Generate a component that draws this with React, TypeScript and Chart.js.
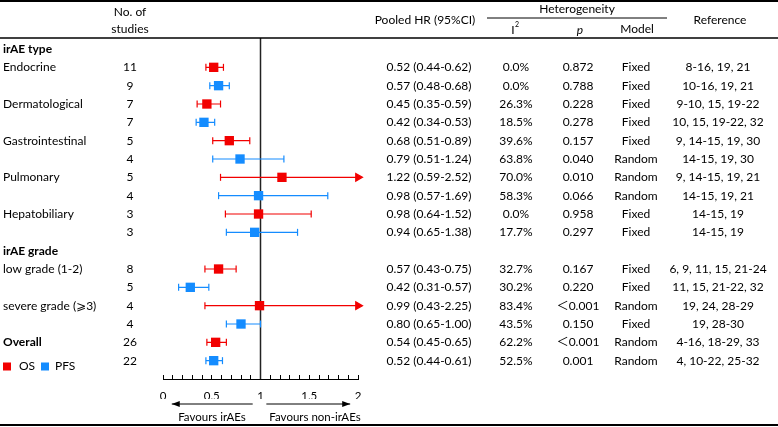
import { useEffect, useRef } from 'react';
import { Chart, registerables } from 'chart.js';

Chart.register(...registerables);

const FONT = 'Lato, "DejaVu Sans", "Noto Sans CJK SC", sans-serif';
const OS_COLOR = '#F20000';
const PFS_COLOR = '#148CFF';

const rowLabels = ['irAE type', 'Endocrine', '', 'Dermatological', '', 'Gastrointestinal', '', 'Pulmonary', '', 'Hepatobiliary', '', 'irAE grade', 'low grade (1-2)', '', 'severe grade (⩾3)', '', 'Overall', ''];
const boldRows = [0, 11, 16];
const rowSeries = ['', 'OS', 'PFS', 'OS', 'PFS', 'OS', 'PFS', 'OS', 'PFS', 'OS', 'PFS', '', 'OS', 'PFS', 'OS', 'PFS', 'OS', 'PFS'];
const studyCounts = ['', '11', '9', '7', '7', '5', '4', '5', '4', '3', '3', '', '8', '5', '4', '4', '26', '22'];
const pooledHR = ['', '0.52 (0.44-0.62)', '0.57 (0.48-0.68)', '0.45 (0.35-0.59)', '0.42 (0.34-0.53)', '0.68 (0.51-0.89)', '0.79 (0.51-1.24)', '1.22 (0.59-2.52)', '0.98 (0.57-1.69)', '0.98 (0.64-1.52)', '0.94 (0.65-1.38)', '', '0.57 (0.43-0.75)', '0.42 (0.31-0.57)', '0.99 (0.43-2.25)', '0.80 (0.65-1.00)', '0.54 (0.45-0.65)', '0.52 (0.44-0.61)'];
const i2Values = ['', '0.0%', '0.0%', '26.3%', '18.5%', '39.6%', '63.8%', '70.0%', '58.3%', '0.0%', '17.7%', '', '32.7%', '30.2%', '83.4%', '43.5%', '62.2%', '52.5%'];
const pValues = ['', '0.872', '0.788', '0.228', '0.278', '0.157', '0.040', '0.010', '0.066', '0.958', '0.297', '', '0.167', '0.220', '＜0.001', '0.150', '＜0.001', '0.001'];
const models = ['', 'Fixed', 'Fixed', 'Fixed', 'Fixed', 'Fixed', 'Random', 'Random', 'Random', 'Fixed', 'Fixed', '', 'Fixed', 'Fixed', 'Random', 'Fixed', 'Random', 'Random'];
const references = ['', '8-16, 19, 21', '10-16, 19, 21', '9-10, 15, 19-22', '10, 15, 19-22, 32', '9, 14-15, 19, 30', '14-15, 19, 30', '9, 14-15, 19, 21', '14-15, 19, 21', '14-15, 19', '14-15, 19', '', '6, 9, 11, 15, 21-24', '11, 15, 21-22, 32', '19, 24, 28-29', '19, 28-30', '4-16, 18-29, 33', '4, 10-22, 25-32'];

// plotted estimates (as drawn in the figure)
const plotHR: (number | null)[] = [null, 0.52, 0.57, 0.45, 0.42, 0.68, 0.79, 1.22, 0.98, 0.98, 0.94, null, 0.57, 0.28, 0.99, 0.80, 0.54, 0.52];
const plotLow: (number | null)[] = [null, 0.44, 0.48, 0.35, 0.34, 0.51, 0.51, 0.59, 0.57, 0.64, 0.65, null, 0.43, 0.16, 0.43, 0.65, 0.45, 0.44];
const plotHigh: (number | null)[] = [null, 0.62, 0.68, 0.59, 0.53, 0.89, 1.24, 2.52, 1.69, 1.52, 1.38, null, 0.75, 0.47, 2.25, 1.00, 0.65, 0.61];

const xTickValues = [0, 0.5, 1, 1.5, 2];
const xTickLabels = ['0', '0.5', '1', '1.5', '2'];
const X_MIN = 0;
const X_MAX = 2;
const NULL_EFFECT = 1;
const Y_MIN = -0.6;
const Y_MAX = 18;

function pointsFor(s: string) {
  const out: any[] = [];
  rowSeries.forEach((ser, k) => {
    if (ser === s && plotHR[k] != null) out.push({ x: plotHR[k], y: k });
  });
  return out;
}

function ciFor(s: string) {
  const out: any[] = [];
  rowSeries.forEach((ser, k) => {
    if (ser !== s || plotLow[k] == null || plotHigh[k] == null) return;
    const hi = plotHigh[k] as number;
    out.push({ x: plotLow[k], y: k, arrow: false });
    out.push({ x: Math.min(hi, X_MAX), y: k, arrow: hi > X_MAX });
    out.push({ x: null, y: null });
  });
  return out;
}

function ciDataset(s: string, color: string) {
  return {
    label: s + ' CI',
    data: ciFor(s),
    showLine: true,
    spanGaps: false,
    clip: false,
    borderColor: color,
    borderWidth: 1.2,
    pointStyle: (c: any) => (c.raw && c.raw.arrow ? 'triangle' : 'line'),
    pointRotation: 90,
    pointRadius: (c: any) => (c.raw && c.raw.arrow ? 4.5 : 3.5),
    pointBackgroundColor: color,
    pointBorderColor: color,
    pointBorderWidth: 1.2,
  };
}

const tablePlugin = {
  id: 'forestTable',
  afterDraw(chart: any) {
    const ctx = chart.ctx as CanvasRenderingContext2D;
    const ys = chart.scales.y;
    const xs = chart.scales.x;
    const W = chart.width;
    const H = chart.height;
    ctx.save();
    ctx.fillStyle = '#000';
    ctx.strokeStyle = '#000';

    // frame lines
    ctx.lineWidth = 2;
    ctx.beginPath();
    ctx.moveTo(0, 1); ctx.lineTo(W, 1);
    ctx.moveTo(0, H - 2); ctx.lineTo(W, H - 2);
    ctx.stroke();
    ctx.lineWidth = 1.3;
    ctx.beginPath();
    ctx.moveTo(0, 38); ctx.lineTo(W, 38);
    ctx.stroke();
    ctx.lineWidth = 1;
    ctx.beginPath();
    ctx.moveTo(487, 18); ctx.lineTo(667, 18);
    ctx.stroke();

    const FS = 12;
    const f = (size: number, bold = false, italic = false) =>
      `${italic ? 'italic ' : ''}${bold ? 'bold ' : ''}${size}px ${FONT}`;
    ctx.textBaseline = 'middle';
    ctx.textAlign = 'center';
    ctx.font = f(FS);
    ctx.fillText('No. of', 130, 12);
    ctx.fillText('studies', 130, 29);
    ctx.fillText('Pooled HR (95%CI)', 425, 20);
    ctx.fillText('Heterogeneity', 577, 9);
    ctx.fillText('Model', 637, 29);
    ctx.fillText('Reference', 720, 20);
    ctx.fillText('I', 513, 30);
    ctx.font = f(7);
    ctx.fillText('2', 517, 25);
    ctx.font = f(FS, false, true);
    ctx.fillText('p', 580, 30);

    // rows
    rowLabels.forEach((lab, k) => {
      const y = ys.getPixelForValue(k);
      ctx.textAlign = 'left';
      ctx.font = f(FS, boldRows.includes(k));
      if (lab) ctx.fillText(lab, 3, y);
      ctx.font = f(FS);
      ctx.textAlign = 'center';
      if (studyCounts[k]) ctx.fillText(studyCounts[k], 130, y);
      if (pooledHR[k]) ctx.fillText(pooledHR[k], 429, y);
      if (i2Values[k]) ctx.fillText(i2Values[k], 516, y);
      if (pValues[k]) ctx.fillText(pValues[k], 578, y);
      if (models[k]) ctx.fillText(models[k], 636, y);
      if (references[k]) ctx.fillText(references[k], 718, y);
    });

    // legend
    const ly = 366.5;
    ctx.fillStyle = OS_COLOR;
    ctx.fillRect(3, ly - 4, 8, 8);
    ctx.fillStyle = PFS_COLOR;
    ctx.fillRect(41, ly - 4, 8, 8);
    ctx.fillStyle = '#000';
    ctx.textAlign = 'left';
    ctx.font = f(FS);
    ctx.fillText('OS', 19, ly);
    ctx.fillText('PFS', 55, ly);

    // favours arrows
    const ay = 404;
    const drawArrow = (x1: number, x2: number) => {
      ctx.beginPath();
      ctx.moveTo(x1, ay);
      ctx.lineTo(x2, ay);
      ctx.lineWidth = 1;
      ctx.stroke();
      const dir = Math.sign(x2 - x1);
      ctx.beginPath();
      ctx.moveTo(x2, ay);
      ctx.lineTo(x2 - dir * 8, ay - 3);
      ctx.lineTo(x2 - dir * 8, ay + 3);
      ctx.closePath();
      ctx.fill();
    };
    drawArrow(xs.getPixelForValue(0.92), xs.getPixelForValue(0.09));
    drawArrow(xs.getPixelForValue(1.06), xs.getPixelForValue(1.92));
    ctx.font = f(11.5);
    ctx.textAlign = 'center';
    ctx.fillText('Favours irAEs', 212, 417);
    ctx.fillText('Favours non-irAEs', 315, 417);
    ctx.restore();
  },
};

export default function App() {
  const ref = useRef<HTMLCanvasElement | null>(null);
  useEffect(() => {
    document.body.style.margin = '0';
    if (!ref.current) return;
    const chart = new Chart(ref.current, {
      type: 'scatter',
      data: {
        datasets: [
          {
            label: 'OS',
            data: pointsFor('OS'),
            pointStyle: 'rect',
            pointRadius: 6.6,
            pointBackgroundColor: OS_COLOR,
            pointBorderColor: OS_COLOR,
            pointBorderWidth: 0,
          },
          {
            label: 'PFS',
            data: pointsFor('PFS'),
            pointStyle: 'rect',
            pointRadius: 6.6,
            pointBackgroundColor: PFS_COLOR,
            pointBorderColor: PFS_COLOR,
            pointBorderWidth: 0,
          },
          ciDataset('OS', OS_COLOR),
          ciDataset('PFS', PFS_COLOR),
          {
            label: 'null effect',
            data: [
              { x: NULL_EFFECT, y: Y_MIN },
              { x: NULL_EFFECT, y: Y_MAX },
            ],
            showLine: true,
            pointRadius: 0,
            borderColor: '#222',
            borderWidth: 1.5,
          },
        ] as any,
      },
      options: {
        responsive: false,
        devicePixelRatio: 1,
        animation: false,
        layout: { padding: { left: 163, right: 420, top: 38, bottom: 28 } },
        plugins: { legend: { display: false }, tooltip: { enabled: false } },
        scales: {
          x: {
            type: 'linear',
            min: X_MIN,
            max: X_MAX,
            position: 'bottom',
            border: { display: true, color: '#000', width: 1 },
            grid: { display: true, drawOnChartArea: false, drawTicks: true, tickLength: -4, color: '#000', lineWidth: 1 },
            ticks: {
              stepSize: 0.1,
              autoSkip: false,
              maxRotation: 0,
              padding: 14,
              color: '#000',
              font: { family: FONT, size: 11.5 },
              callback: (v: any) => {
                const i = xTickValues.findIndex((t) => Math.abs(t - Number(v)) < 1e-6);
                return i >= 0 ? xTickLabels[i] : '';
              },
            },
            afterFit: (s: any) => {
              s.height = 20;
              s.paddingLeft = 0;
              s.paddingRight = 0;
            },
          },
          y: { type: 'linear', min: Y_MIN, max: Y_MAX, reverse: true, display: false },
        },
      } as any,
      plugins: [tablePlugin],
    });
    return () => chart.destroy();
  }, []);
  return <canvas ref={ref} width={778} height={427} style={{ display: 'block' }} />;
}
